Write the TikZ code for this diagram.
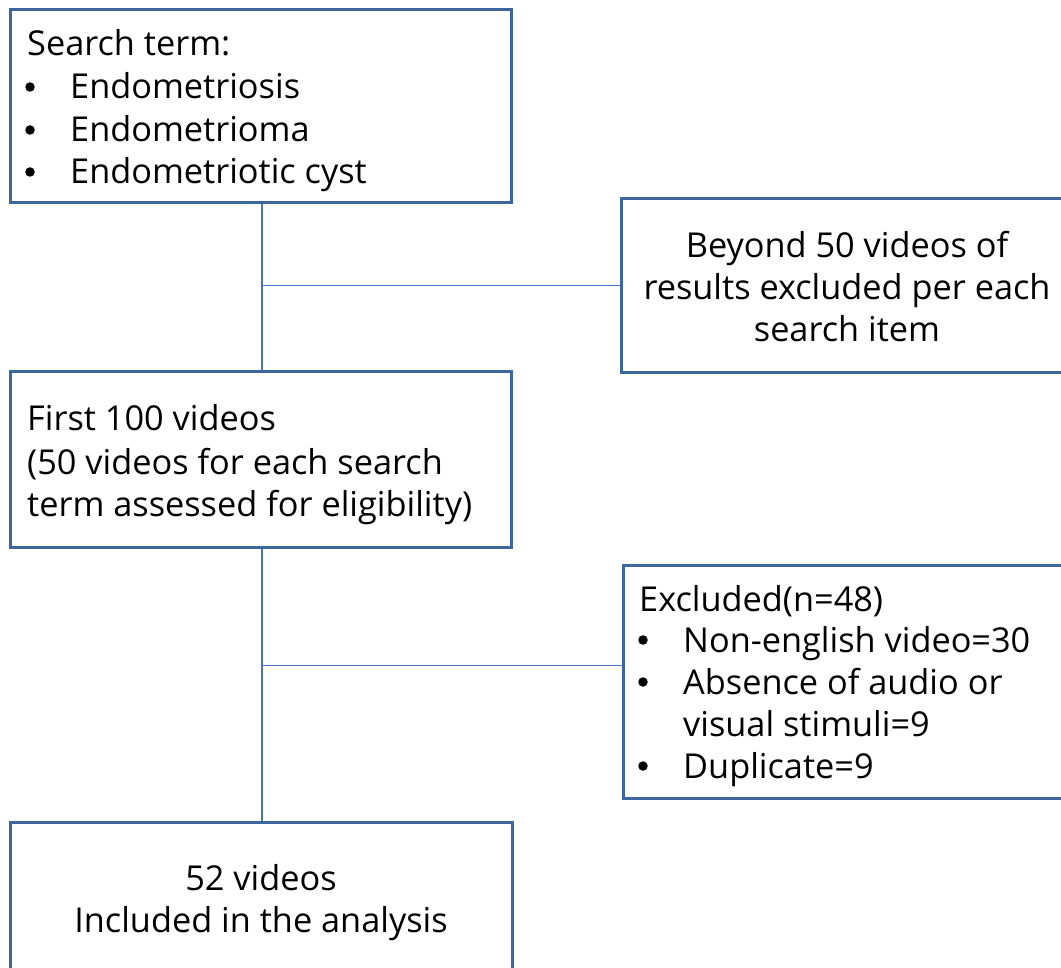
\documentclass[tikz,border=0pt]{standalone}
\usepackage{fontspec}
\setmainfont{Open Sans}
\definecolor{boxblue}{RGB}{60,102,158}
\definecolor{lineblue}{RGB}{72,118,196}
\begin{document}
\begin{tikzpicture}[x=1pt,y=-1pt,
  box/.style={draw=boxblue,line width=3pt,rectangle,inner sep=0pt},
  conn/.style={draw=lineblue,line width=1.8pt},
  txt/.style={inner sep=0pt,font=\fontsize{34.3}{43}\selectfont,text=black},
  lt/.style={txt,anchor=base west},
  ct/.style={txt,anchor=base},
  dot/.style={circle,fill=black,inner sep=0pt,minimum size=9.5pt}]
\useasboundingbox (0,0) rectangle (1061,968);
\fill[white] (0,0) rectangle (1061,968);
% boxes
\node[box,minimum width=501pt,minimum height=193pt] (b1) at (260.5,106.5) {};
\node[box,minimum width=454pt,minimum height=174pt] (b2) at (848,286) {};
\node[box,minimum width=501pt,minimum height=175pt] (b3) at (260.5,459.5) {};
\node[box,minimum width=452pt,minimum height=233pt] (b4) at (849,681.5) {};
\node[box,minimum width=502pt,minimum height=153pt] (b5) at (261,898.5) {};
% connectors
\coordinate (j1) at (262,285.5);
\coordinate (j2) at (262,665.5);
\draw[conn] (b1.south -| j1) -- (b3.north -| j1);
\draw[conn] (j1) -- (b2.west |- j1);
\draw[conn] (b3.south -| j2) -- (b5.north -| j2);
\draw[conn] (j2) -- (b4.west |- j2);
% box 1 text
\node[lt] (t11) at (27,56) {Search term:};
\node[dot] (u12) at (30,87) {};
\node[lt] (t12) at (70,98.5) {Endometriosis};
\node[dot] (u13) at (30,130) {};
\node[lt] (t13) at (70,141.5) {Endometrioma};
\node[dot] (u14) at (30,172) {};
\node[lt] (t14) at (70,183.5) {Endometriotic cyst};
% box 2 text
\node[ct] (t21) at (847,258) {Beyond 50 videos of};
\node[ct] (t22) at (847,300) {results excluded per each};
\node[ct] (t23) at (847,342) {search item};
% box 3 text
\node[lt] (t31) at (27,431) {First 100 videos};
\node[lt] (t32) at (27,474) {(50 videos for each search};
\node[lt] (t33) at (27,516) {term assessed for eligibility)};
% box 4 text
\node[lt] (t41) at (639,611) {Excluded(n=48)};
\node[dot] (u42) at (643,640) {};
\node[lt] (t42) at (683,652) {Non-english video=30};
\node[dot] (u43) at (643,682) {};
\node[lt] (t43) at (683,694) {Absence of audio or};
\node[lt] (t44) at (683,736) {visual stimuli=9};
\node[dot] (u45) at (643,766) {};
\node[lt] (t45) at (683,778) {Duplicate=9};
% box 5 text
\node[ct] (t51) at (261,890) {52 videos};
\node[ct] (t52) at (261,932) {Included in the analysis};
\end{tikzpicture}
\end{document}
